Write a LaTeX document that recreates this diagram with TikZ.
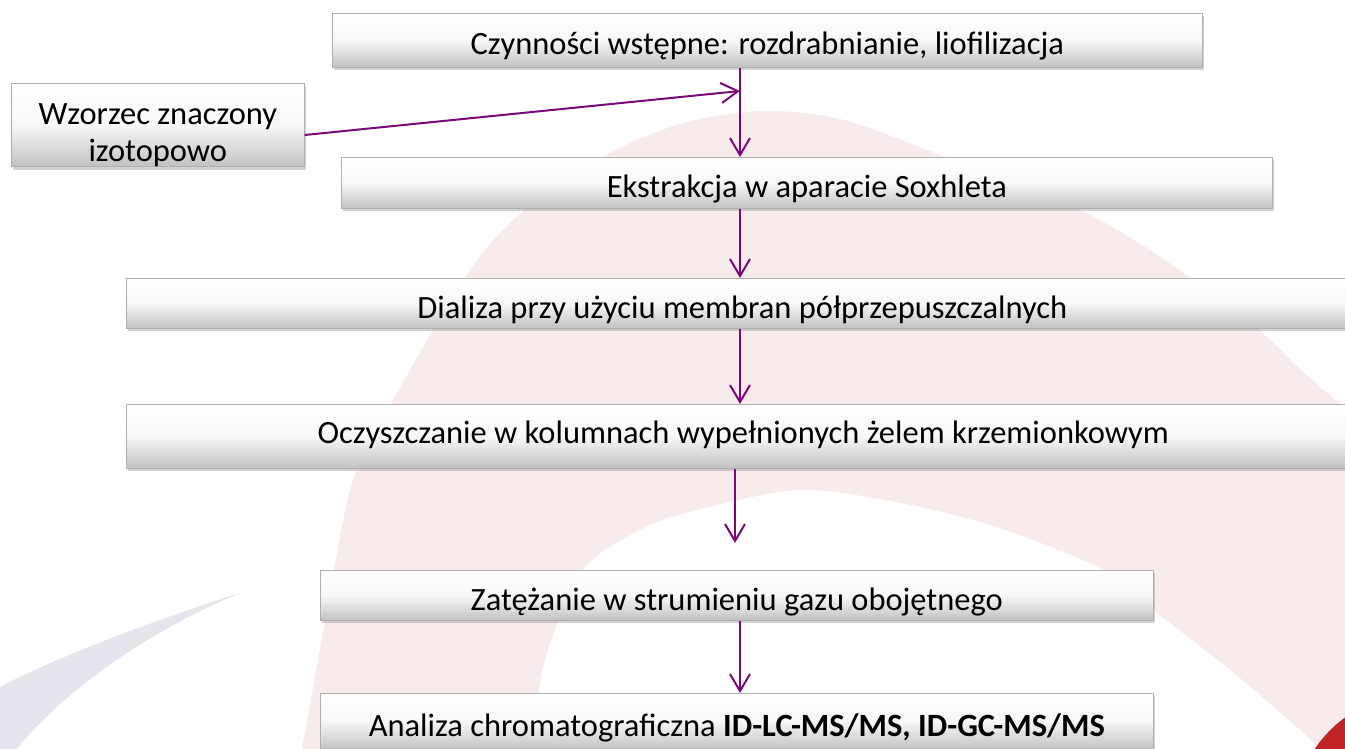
\documentclass[tikz,border=0pt]{standalone}
\usepackage{fontspec}
\setmainfont{Carlito}
\usepackage{xcolor}
\usetikzlibrary{arrows.meta,shadows}

\definecolor{arrowpurple}{RGB}{122,8,122}
\definecolor{pinkbg}{RGB}{248,235,235}
\definecolor{greybg}{RGB}{229,229,237}
\definecolor{darkred}{RGB}{192,36,38}
\definecolor{boxline}{RGB}{175,175,175}

\tikzset{
  stepbox/.style={draw=boxline, line width=0.6pt, top color=white, bottom color=black!24, middle color=black!3,
    inner sep=0pt, font=\fontsize{32.5}{37}\selectfont,
    drop shadow={shadow xshift=1.5pt, shadow yshift=-3pt, opacity=0.35}},
  onestep/.style={stepbox, text height=31pt, text depth=1.6pt},
  flow/.style={draw=arrowpurple, line width=2pt, -{Straight Barb[length=17pt, width=20pt, line width=2pt]}}
}

\begin{document}
\begin{tikzpicture}[x=1pt,y=1pt,yscale=-1,xscale=1]
\useasboundingbox (0,0) rectangle (1345,749);
\clip (0,0) rectangle (1345,749);
\fill [white] (0,0) rectangle (1345,749);

%Shape: pink arch
\fill [pinkbg] plot [smooth] coordinates {(300,760) (318,660) (334,570) (353,480) (392,402) (468,273) (521,213) (600,158) (680,124) (760,111) (840,119) (935,153) (1086,213) (1184,273) (1259,330) (1310,378) (1360,420)} -- (1360,760) -- cycle;
\fill [white] plot [smooth] coordinates {(530,760) (545,660) (583,570) (640,530) (697,510) (800,490) (900,503) (996,527) (1104,570) (1157,613) (1230,670) (1300,730) (1330,760)} -- cycle;
%Shape: grey swoosh
\fill [greybg] (240,593) .. controls (170,615) and (60,655) .. (-2,688) -- (-2,752) -- (14,752) .. controls (60,695) and (140,635) .. (240,593) -- cycle;
%Shape: red corner
\fill [darkred] (1420,820) circle (127);

% Text Node
\draw (332,13) node [anchor=north west][onestep, minimum width=870pt, minimum height=54pt] (czyn) {Czynności wstępne: rozdrabnianie, liofilizacja};
% Text Node
\draw (11,83) node [anchor=north west][stepbox, minimum width=293pt, minimum height=81pt, align=center] (wzor) {\rule{0pt}{41pt}Wzorzec znaczony\\izotopowo};
% Text Node
\draw (341,157) node [anchor=north west][onestep, minimum width=931pt, minimum height=51pt] (ekstr) {Ekstrakcja w aparacie Soxhleta};
% Text Node
\draw (126,278) node [anchor=north west][onestep, minimum width=1232pt, minimum height=50pt] (dializa) {Dializa przy użyciu membran półprzepuszczalnych};
% Text Node
\draw (126,404) node [anchor=north west][onestep, text height=22.8pt, text depth=8.8pt, minimum width=1234pt, minimum height=64pt] (oczysz) {Oczyszczanie w kolumnach wypełnionych żelem krzemionkowym};
% Text Node
\draw (320,570) node [anchor=north west][onestep, minimum width=833pt, minimum height=50pt] (zatez) {Zatężanie w strumieniu gazu obojętnego};
% Text Node
\draw (320,693) node [anchor=north west][onestep, minimum width=833pt, minimum height=56pt] (analiza) {Analiza chromatograficzna \textbf{ID-LC-MS/MS, ID-GC-MS/MS}};

\coordinate (axis) at (740,0);
\coordinate (mix) at (740,91);
\coordinate (gap) at (735,543);

%Straight Lines
\draw [flow] (czyn.south -| axis) -- (ekstr.north -| axis);
%Straight Lines
\draw [flow] (wzor.east |- 0,135) -- (mix);
%Straight Lines
\draw [flow] (ekstr.south -| axis) -- (dializa.north -| axis);
%Straight Lines
\draw [flow] (dializa.south -| axis) -- (oczysz.north -| axis);
%Straight Lines
\draw [flow] (oczysz.south -| gap) -- (gap);
%Straight Lines
\draw [flow] (zatez.south -| axis) -- (analiza.north -| axis);

\end{tikzpicture}
\end{document}
